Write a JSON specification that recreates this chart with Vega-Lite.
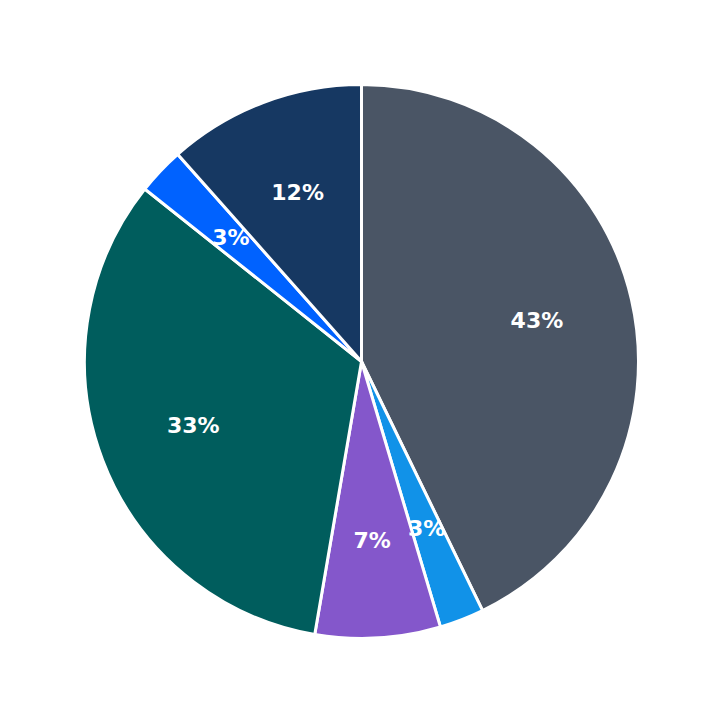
{
  "$schema": "https://vega.github.io/schema/vega-lite/v6.json",
  "width": 723,
  "height": 723,
  "autosize": {"type": "fit", "contains": "padding"},
  "padding": 0,
  "background": "white",
  "view": {"stroke": null},
  "data": {
    "values": [
      {"idx": 1, "category": "A", "value": 0.428},
      {"idx": 2, "category": "B", "value": 0.026},
      {"idx": 3, "category": "C", "value": 0.073},
      {"idx": 4, "category": "D", "value": 0.33},
      {"idx": 5, "category": "E", "value": 0.0275},
      {"idx": 6, "category": "F", "value": 0.1155}
    ]
  },
  "encoding": {
    "theta": {"field": "value", "type": "quantitative", "stack": true},
    "order": {"field": "idx", "type": "quantitative"},
    "color": {
      "field": "category",
      "type": "nominal",
      "legend": null,
      "scale": {
        "domain": ["A", "B", "C", "D", "E", "F"],
        "range": ["#4a5565", "#1192e8", "#8457cb", "#005d5d", "#0062ff", "#163862"]
      }
    }
  },
  "layer": [
    {
      "mark": {"type": "arc", "outerRadius": 277, "stroke": "white", "strokeWidth": 3}
    },
    {
      "mark": {"type": "text", "radius": 180, "fontSize": 22, "fontWeight": "bold", "font": "DejaVu Sans", "baseline": "middle", "align": "center"},
      "encoding": {
        "text": {"field": "value", "type": "quantitative", "format": ".0%"},
        "color": {"value": "white"}
      }
    }
  ]
}
